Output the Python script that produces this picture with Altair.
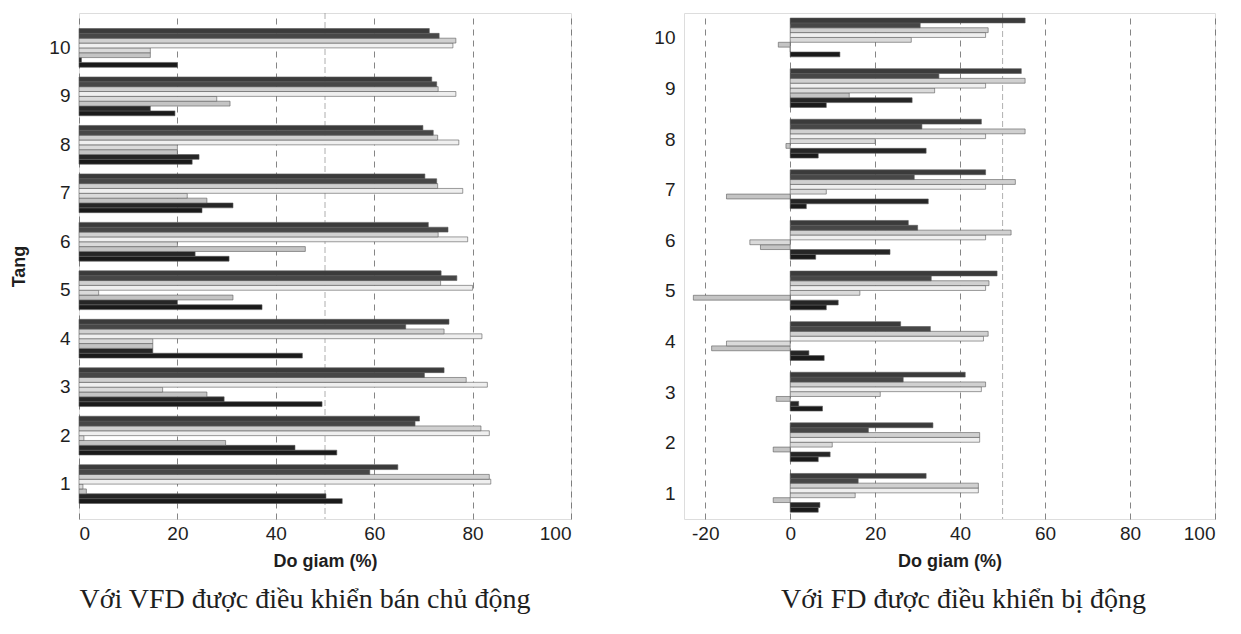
import altair as alt
import pandas as pd

storeys = list(range(1, 11))
series = ["s1", "s2", "s3", "s4", "s5", "s6", "s7", "s8"]
series_colors = ["#1a1a1a", "#262626", "#c4c4c4", "#dadada", "#efefef", "#d0d0d0", "#474747", "#3b3b3b"]

# Left panel: VFD semi-active control (storey 1..10)
left_s1 = [53.5, 52.4, 49.4, 45.4, 37.2, 30.5, 25.0, 23.0, 19.5, 20.0]
left_s2 = [50.2, 43.9, 29.5, 15.0, 20.0, 23.6, 31.3, 24.4, 14.5, 0.5]
left_s3 = [1.5, 29.8, 26.0, 15.0, 31.3, 46.0, 26.0, 20.0, 30.7, 14.5]
left_s4 = [0.8, 1.0, 17.0, 15.0, 4.0, 20.0, 22.0, 20.0, 28.0, 14.5]
left_s5 = [83.7, 83.4, 83.0, 81.9, 80.0, 79.0, 78.0, 77.2, 76.6, 76.0]
left_s6 = [83.4, 81.7, 78.7, 74.2, 73.5, 73.0, 72.9, 72.9, 73.0, 76.6]
left_s7 = [59.1, 68.3, 70.2, 66.4, 76.8, 75.0, 72.7, 72.0, 72.7, 73.2]
left_s8 = [64.8, 69.2, 74.2, 75.2, 73.6, 71.0, 70.3, 69.9, 71.7, 71.2]

# Right panel: FD passive control (storey 1..10)
right_s1 = [6.6, 6.6, 7.6, 8.0, 8.5, 6.0, 3.8, 6.6, 8.5, 11.7]
right_s2 = [7.0, 9.4, 2.0, 4.4, 11.3, 23.5, 32.5, 32.0, 28.7, 0.0]
right_s3 = [-4.0, -4.0, -3.3, -18.5, -22.8, -7.0, -15.0, -1.0, 13.9, -2.8]
right_s4 = [15.3, 9.9, 21.2, -15.0, 16.4, -9.5, 8.5, 20.0, 34.0, 28.5]
right_s5 = [44.3, 44.6, 45.0, 45.5, 46.0, 46.0, 46.0, 46.0, 46.0, 46.0]
right_s6 = [44.3, 44.6, 46.0, 46.6, 46.8, 52.0, 53.0, 55.3, 55.3, 46.6]
right_s7 = [16.0, 18.4, 26.6, 33.0, 33.2, 30.0, 29.2, 31.0, 35.0, 30.6]
right_s8 = [32.0, 33.6, 41.2, 26.0, 48.7, 27.8, 46.0, 45.0, 54.4, 55.3]

left_ticks = [0, 20, 40, 60, 80, 100]
right_ticks = [-20, 0, 20, 40, 60, 80, 100]
ref_line = [50]

x_title = "Do giam (%)"
y_title = "Tang"
left_caption = "Với VFD được điều khiển bán chủ động"
right_caption = "Với FD được điều khiển bị động"


def long_df(cols):
    rows = []
    for name, vals in zip(series, cols):
        for st, v in zip(storeys, vals):
            rows.append({"Tang": st, "series": name, "value": v})
    return pd.DataFrame(rows)


left_df = long_df([left_s1, left_s2, left_s3, left_s4, left_s5, left_s6, left_s7, left_s8])
right_df = long_df([right_s1, right_s2, right_s3, right_s4, right_s5, right_s6, right_s7, right_s8])
ref_df = pd.DataFrame({"v": ref_line})

TXT = "#1e1e1e"


def panel(df, domain, ticks, pad_outer, width, show_ytitle, caption, dx):
    xscale = alt.Scale(domain=domain, nice=False, zero=False)
    bars = alt.Chart(df).mark_bar(stroke="#5a5a5a", strokeWidth=0.6).encode(
        x=alt.X("value:Q", scale=xscale,
                axis=alt.Axis(values=ticks, grid=True, gridDash=[6, 5], gridColor="#666",
                              gridWidth=0.8, ticks=False, domain=False,
                              labelExpr="datum.value + ''",
                              labelFontSize=19, labelFont="Liberation Sans", labelColor=TXT,
                              labelPadding=5, title=x_title, titleFontSize=18,
                              titleFont="Liberation Sans", titleFontWeight="bold",
                              titleColor=TXT, titlePadding=9)),
        y=alt.Y("Tang:O", sort="descending",
                scale=alt.Scale(paddingInner=0.2, paddingOuter=pad_outer),
                axis=alt.Axis(ticks=False, domain=False, labelFontSize=19,
                              labelFont="Liberation Sans", labelColor=TXT, labelPadding=9,
                              labelAngle=0,
                              title=y_title if show_ytitle else None,
                              titleFontSize=18, titleFont="Liberation Sans",
                              titleFontWeight="bold", titleColor=TXT, titlePadding=20)),
        yOffset=alt.YOffset("series:N", sort=series[::-1]),
        color=alt.Color("series:N", scale=alt.Scale(domain=series, range=series_colors), legend=None),
    )
    ref = alt.Chart(ref_df).mark_rule(color="#9a9a9a", strokeWidth=0.8, strokeDash=[6, 3]).encode(
        x=alt.X("v:Q", scale=xscale)
    )
    return alt.layer(ref, bars).properties(
        width=width, height=506,
        title=alt.TitleParams(caption, orient="bottom", font="Liberation Serif", fontSize=28,
                              fontWeight="normal", color=TXT, offset=16, frame="group",
                              anchor="middle", dx=dx),
    )


left = panel(left_df, [0, 100], left_ticks, 0.32, 492, True, left_caption, -20)
right = panel(right_df, [-25, 100], right_ticks, 0.1, 531, False, right_caption, 14)

chart = alt.hconcat(left, right, spacing=81).properties(
    padding={"left": 10, "top": 12, "right": 5, "bottom": 5}
).configure_view(stroke="#555", strokeWidth=1).configure(background="white")

chart.save("out.html", embed_options={"renderer": "svg", "actions": False})
